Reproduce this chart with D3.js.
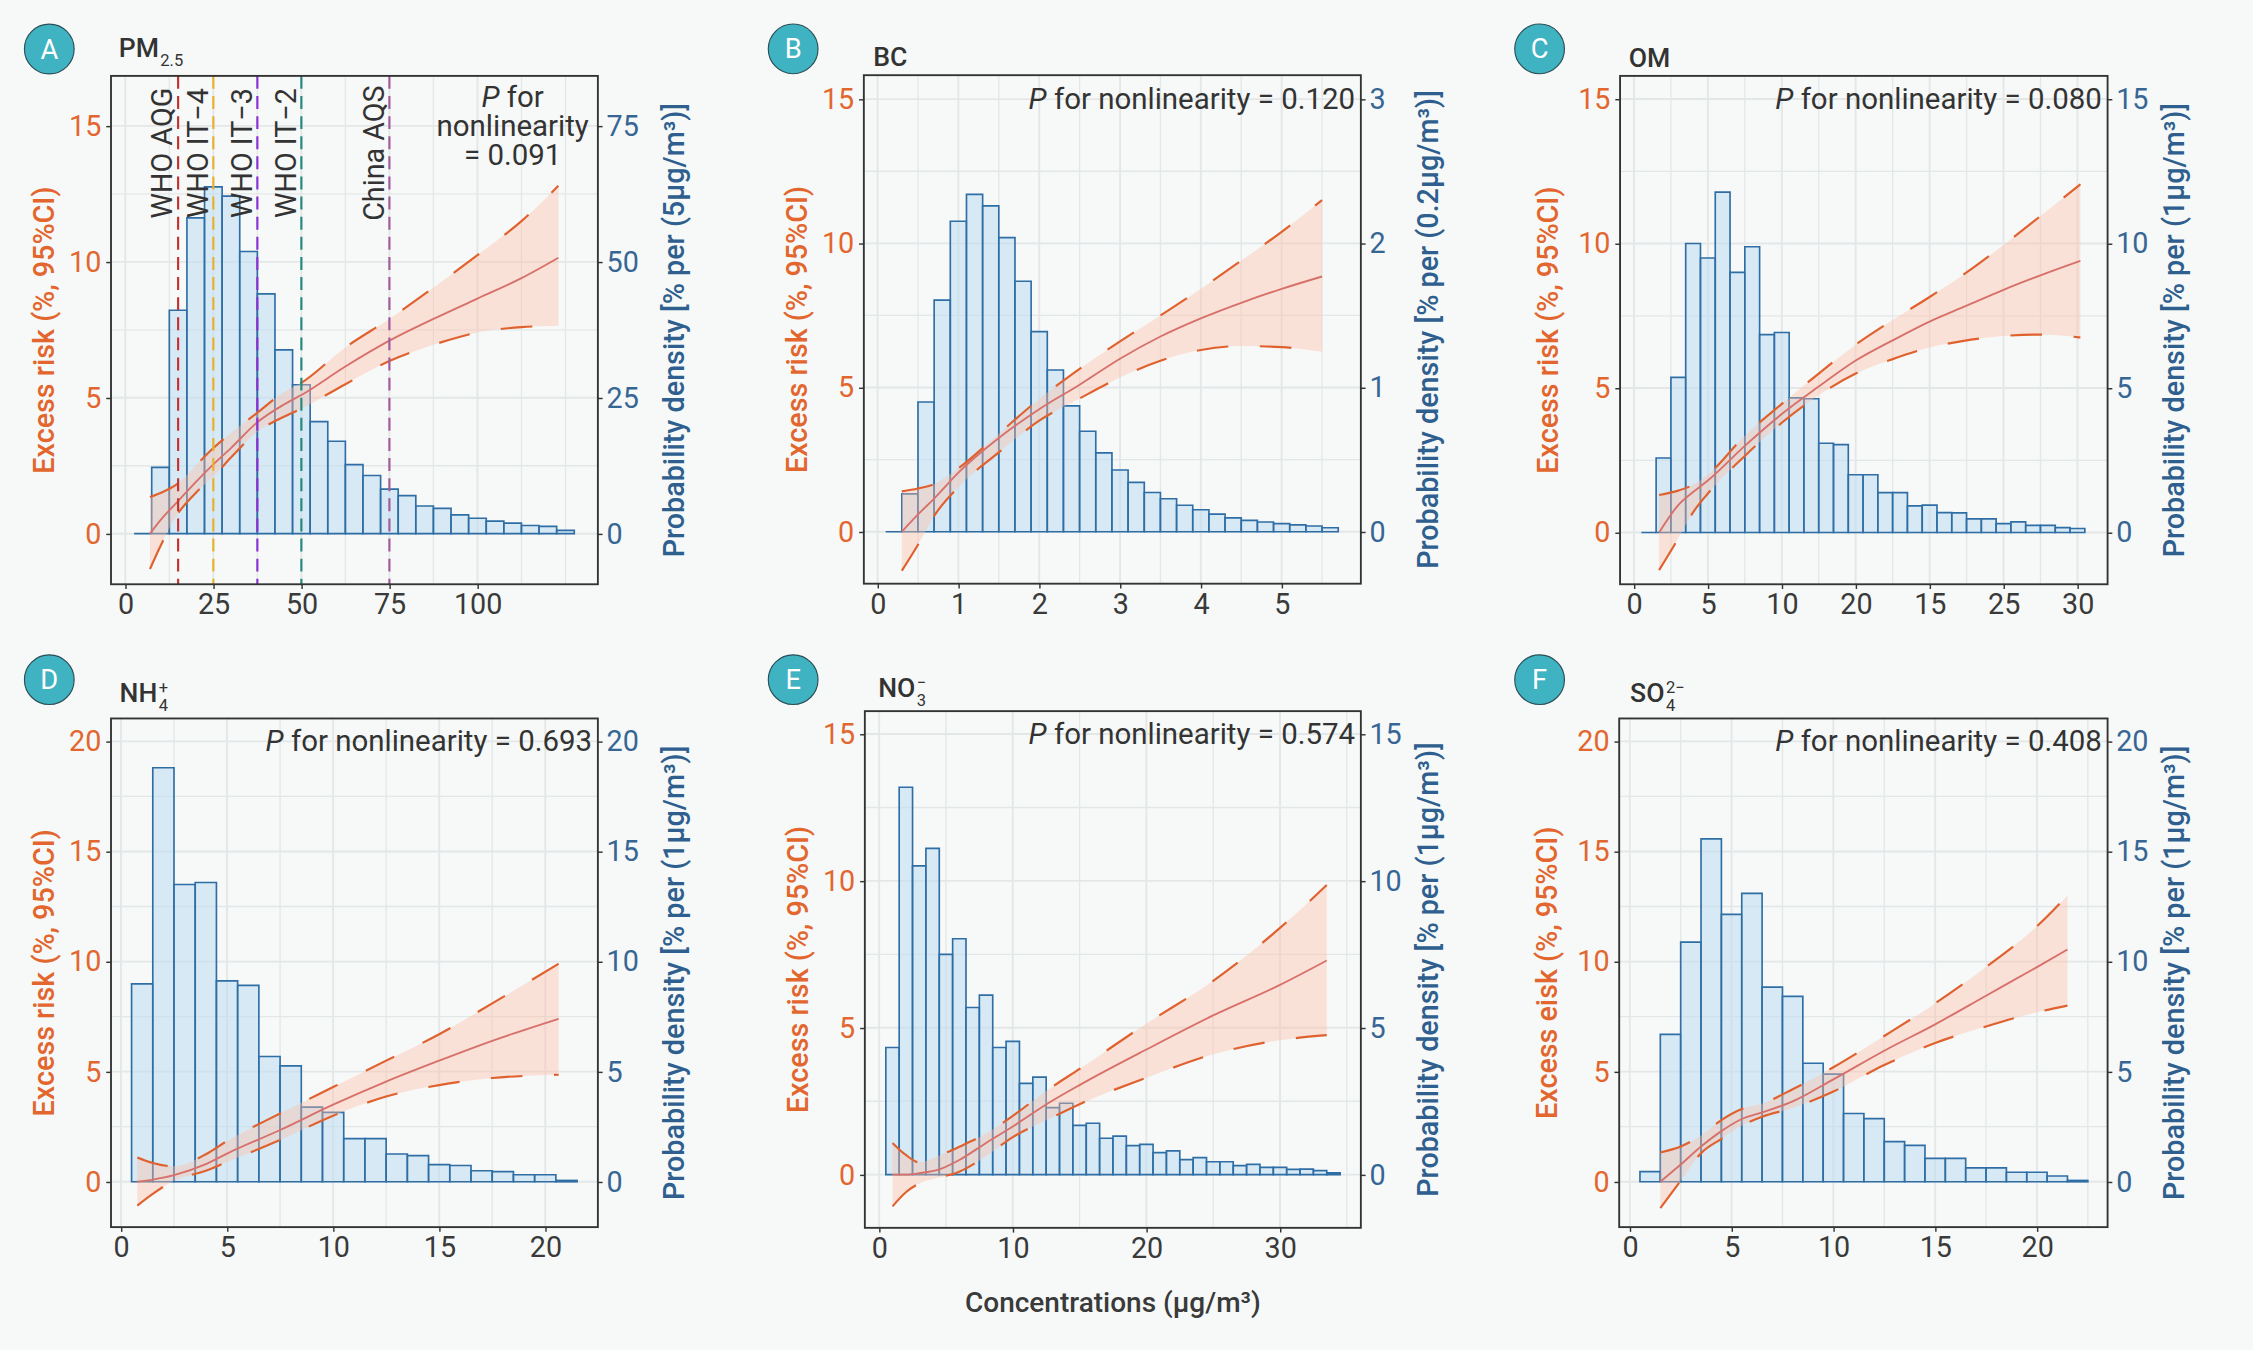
<!DOCTYPE html>
<html>
<head>
<meta charset="utf-8">
<script src="https://cdn.jsdelivr.net/npm/d3@7"></script>
<style>
html, body { margin: 0; padding: 0; background: #f6f9f8; }
svg { display: block; font-family: Roboto, "Noto Sans", sans-serif; }
</style>
</head>
<body>
<svg id="chart" width="2253" height="1350" viewBox="0 0 1568 939.5"></svg>
<script>
// ---- histogram densities (% per bin) ----
var pm25Density = [0, 12.2, 41.1, 58.1, 63.8, 62.1, 51.9, 44.1, 33.8, 27.4, 20.6, 17.0, 12.7, 10.7, 8.2, 7.0, 5.1, 4.65, 3.45, 2.85, 2.3, 1.95, 1.5, 1.35, 0.6]
var bcDensity = [0, 0.263, 0.90, 1.606, 2.153, 2.34, 2.26, 2.04, 1.737, 1.388, 1.122, 0.873, 0.697, 0.547, 0.428, 0.343, 0.272, 0.229, 0.184, 0.153, 0.122, 0.096, 0.079, 0.068, 0.057, 0.048, 0.040, 0.028]
var omDensity = [0, 2.58, 5.37, 10.0, 9.5, 11.78, 9.0, 9.89, 6.85, 6.92, 4.66, 4.63, 3.09, 3.04, 2.0, 2.0, 1.38, 1.38, 0.92, 0.95, 0.69, 0.68, 0.47, 0.47, 0.31, 0.37, 0.25, 0.25, 0.17, 0.14]
var nh4Density = [8.99, 18.8, 13.5, 13.59, 9.12, 8.92, 5.69, 5.26, 3.39, 3.15, 1.96, 1.96, 1.26, 1.19, 0.78, 0.74, 0.5, 0.46, 0.32, 0.32, 0.06]
var no3Density = [4.33, 13.19, 10.51, 11.11, 7.5, 8.03, 5.69, 6.11, 4.33, 4.54, 3.11, 3.32, 2.28, 2.43, 1.68, 1.75, 1.24, 1.31, 0.99, 1.03, 0.75, 0.81, 0.51, 0.58, 0.44, 0.44, 0.31, 0.35, 0.25, 0.25, 0.18, 0.19, 0.14, 0.06]
var so4Density = [0.46, 6.69, 10.88, 15.57, 12.14, 13.1, 8.84, 8.42, 5.38, 4.89, 3.1, 2.87, 1.82, 1.65, 1.06, 1.06, 0.63, 0.63, 0.43, 0.43, 0.26, 0.06]
var binStarts = [2.5, 0.1, 0.5, 0.5, 0.5, 0.5]
var binWidths = [5, 0.2, 1, 1, 1, 1]

// ---- exposure-response curves: excess risk (%) with 95% CI ----
var pm25X = [7, 10, 15, 20, 25, 30, 37.5, 45, 50, 62.5, 75, 87.5, 100, 112.5, 123]
var pm25Fit = [0, 0.5, 1.2, 1.9, 2.55, 3.15, 4.1, 4.75, 5.1, 6.15, 7.1, 7.9, 8.65, 9.4, 10.15]
var pm25Upper = [1.35, 1.5, 1.85, 2.5, 3.15, 3.7, 4.45, 5.2, 5.55, 6.85, 7.9, 9.05, 10.25, 11.5, 12.8]
var pm25Lower = [-1.3, -0.45, 0.75, 1.5, 2.1, 2.8, 3.75, 4.3, 4.6, 5.5, 6.35, 6.95, 7.4, 7.6, 7.65]

var bcX = [0.3, 0.5, 0.7, 1.0, 1.5, 2.0, 2.5, 3.0, 3.5, 4.0, 4.5, 5.0, 5.5]
var bcFit = [0, 0.6, 1.15, 2.05, 3.25, 4.25, 5.1, 6.0, 6.77, 7.4, 7.94, 8.42, 8.85]
var bcUpper = [1.4, 1.5, 1.65, 2.2, 3.4, 4.6, 5.65, 6.6, 7.5, 8.42, 9.4, 10.4, 11.5]
var bcLower = [-1.35, -0.45, 0.55, 1.55, 2.75, 3.85, 4.62, 5.35, 5.93, 6.3, 6.44, 6.4, 6.24]

var omX = [1.7, 3, 4, 5, 7.5, 10, 12.5, 15, 17.5, 20, 22.5, 25, 27.5, 30.2]
var omFit = [0, 0.95, 1.4, 1.8, 3.0, 4.1, 5.05, 5.95, 6.65, 7.3, 7.85, 8.4, 8.9, 9.4]
var omUpper = [1.3, 1.45, 1.65, 2.0, 3.35, 4.45, 5.5, 6.5, 7.35, 8.15, 9.0, 9.95, 10.95, 12.05]
var omLower = [-1.3, -0.2, 0.7, 1.35, 2.65, 3.8, 4.75, 5.5, 6.0, 6.4, 6.65, 6.8, 6.85, 6.75]

var nh4X = [0.77, 1.5, 2.5, 4, 5, 7.5, 10, 12.5, 15, 17.5, 20.63]
var nh4Fit = [0, 0.1, 0.3, 0.8, 1.28, 2.35, 3.5, 4.55, 5.5, 6.4, 7.4]
var nh4Upper = [1.1, 0.85, 0.7, 1.25, 1.85, 3.1, 4.3, 5.5, 6.7, 8.1, 9.9]
var nh4Lower = [-1.08, -0.55, 0.05, 0.5, 0.9, 1.9, 3.0, 3.87, 4.39, 4.71, 4.86]

var no3X = [1, 2, 3, 4.5, 6, 8, 10, 12.5, 15, 20, 25, 30, 33.5]
var no3Fit = [0, 0.0, 0.05, 0.18, 0.5, 1.08, 1.64, 2.39, 3.05, 4.26, 5.42, 6.46, 7.29]
var no3Upper = [1.08, 0.67, 0.42, 0.65, 0.95, 1.4, 2.0, 2.85, 3.6, 5.14, 6.6, 8.4, 9.86]
var no3Lower = [-1.08, -0.6, -0.3, -0.1, 0.1, 0.63, 1.28, 1.85, 2.4, 3.3, 4.1, 4.58, 4.75]

var so4X = [1.5, 2.5, 3.5, 4.5, 5.5, 6.5, 8, 10, 12.5, 15, 17.5, 20, 21.5]
var so4Fit = [0, 0.78, 1.6, 2.3, 2.85, 3.15, 3.65, 4.65, 5.95, 7.15, 8.45, 9.75, 10.55]
var so4Upper = [1.33, 1.6, 2.1, 2.8, 3.3, 3.55, 4.2, 5.2, 6.62, 8.1, 9.75, 11.6, 13.0]
var so4Lower = [-1.2, 0.05, 1.3, 1.95, 2.55, 2.95, 3.35, 4.1, 5.3, 6.3, 7.05, 7.7, 8.0]

// ---- labels, ticks ----
var panelLetters = ["A", "B", "C", "D", "E", "F"]
var pValues = ["0.091", "0.120", "0.080", "0.693", "0.574", "0.408"]
var leftTitles = ["Excess risk (%, 95%CI)", "Excess risk (%, 95%CI)", "Excess risk (%, 95%CI)",
    "Excess risk (%, 95%CI)", "Excess risk (%, 95%CI)", "Excess eisk (%, 95%CI)"]
var rightTitles = ["Probability density [% per (5μg/m³)]", "Probability density [% per (0.2μg/m³)]",
    "Probability density [% per (1μg/m³)]", "Probability density [% per (1μg/m³)]",
    "Probability density [% per (1μg/m³)]", "Probability density [% per (1μg/m³)]"]
var titleMain = ["PM", "BC", "OM", "NH", "NO", "SO"]
var titleSup = ["", "", "", "+", "\u2212", "2\u2212"]
var titleSub = ["2.5", "", "", "4", "3", "4"]

var pm25XTicks = [0, 25, 50, 75, 100]
var bcXTicks = [0, 1, 2, 3, 4, 5]
var omXTicks = [0, 5, 10, 15, 20, 25, 30]
var omXTickLabels = ["0", "5", "10", "20", "15", "25", "30"]
var nh4XTicks = [0, 5, 10, 15, 20]
var no3XTicks = [0, 10, 20, 30]
var so4XTicks = [0, 5, 10, 15, 20]
var leftTicks15 = [0, 5, 10, 15]
var leftTicks20 = [0, 5, 10, 15, 20]
var pm25RightTicks = [0, 25, 50, 75]
var bcRightTicks = [0, 1, 2, 3]

var guideValues = [15, 25, 37.5, 50, 75]
var guideLabels = ["WHO AQG", "WHO IT\u22124", "WHO IT\u22123", "WHO IT\u22122", "China AQS"]
var guideColors = ["#c4332f", "#e8b12c", "#8b2fd6", "#258a7d", "#a25a9e"]

var xLabel = "Concentrations (μg/m³)"

// ---- panel layout (viewBox units) ----
var layout = [
    { x0: 77.25, x1: 416.1, y0: 52.8, y1: 406.6, badge: [34.3, 34.1], title: [82.6, 39.7], lt: 47, rt: 53 },
    { x0: 601.2, x1: 947.1, y0: 52.3, y1: 406.2, badge: [552, 34], title: [607.8, 46], lt: 46.5, rt: 46.5 },
    { x0: 1127.5, x1: 1466.8, y0: 52.8, y1: 406.6, badge: [1071.5, 34], title: [1133.5, 46.8], lt: 50, rt: 46.5 },
    { x0: 77.25, x1: 416.1, y0: 500, y1: 854, badge: [34.3, 473], title: [83.2, 488.6], lt: 47, rt: 53 },
    { x0: 601.9, x1: 947.1, y0: 494.9, y1: 854.5, badge: [552, 473], title: [611.2, 485.2], lt: 46.5, rt: 46.5 },
    { x0: 1126.9, x1: 1466.8, y0: 500, y1: 854, badge: [1071.5, 473], title: [1134.5, 488.6], lt: 50, rt: 46.5 }
]

var panels = [
    { dens: pm25Density, cx: pm25X, fit: pm25Fit, lo: pm25Lower, hi: pm25Upper, xd: [-4.06, 134.2], yd: [-1.86, 16.84], factor: 5, xt: pm25XTicks, xgrid: 12.5, lt: leftTicks15, rtk: pm25RightTicks },
    { dens: bcDensity, cx: bcX, fit: bcFit, lo: bcLower, hi: bcUpper, xd: [-0.17, 5.98], yd: [-1.80, 15.83], factor: 0.2, xt: bcXTicks, xgrid: 0.5, lt: leftTicks15, rtk: bcRightTicks },
    { dens: omDensity, cx: omX, fit: omFit, lo: omLower, hi: omUpper, xd: [-0.94, 32.04], yd: [-1.79, 15.8], factor: 1, xt: omXTicks, xlab: omXTickLabels, xgrid: 2.5, lt: leftTicks15, rtk: leftTicks15 },
    { dens: nh4Density, cx: nh4X, fit: nh4Fit, lo: nh4Lower, hi: nh4Upper, xd: [-0.47, 22.48], yd: [-2.06, 21.04], factor: 1, xt: nh4XTicks, xgrid: 2.5, lt: leftTicks20, rtk: leftTicks20 },
    { dens: no3Density, cx: no3X, fit: no3Fit, lo: no3Lower, hi: no3Upper, xd: [-1.07, 36.05], yd: [-1.81, 15.78], factor: 1, xt: no3XTicks, xgrid: 5, lt: leftTicks15, rtk: leftTicks15 },
    { dens: so4Density, cx: so4X, fit: so4Fit, lo: so4Lower, hi: so4Upper, xd: [-0.52, 23.47], yd: [-2.06, 21.04], factor: 1, xt: so4XTicks, xgrid: 2.5, lt: leftTicks20, rtk: leftTicks20 }
]

var svg = d3.select("#chart")
svg.append("rect").attr("width", 1568).attr("height", 939.5).attr("fill", "#f6f9f8")

panels.forEach(function (p, i) { drawPanel(p, layout[i], i) })

svg.append("text")
    .attr("x", 774.5).attr("y", 913)
    .attr("text-anchor", "middle")
    .attr("font-size", 19.5).attr("font-weight", 500).attr("fill", "#3a3a3a")
    .text(xLabel)

function styleAxis(sel, color) {
    sel.select(".domain").remove()
    sel.attr("font-family", null).attr("font-size", null)
    sel.selectAll(".tick line").attr("stroke", "#333").attr("stroke-width", 1)
    sel.selectAll(".tick text").attr("fill", color).attr("font-size", 20)
}

function drawPanel(p, L, i) {
    var g = svg.append("g")
    var x = d3.scaleLinear().domain(p.xd).range([L.x0, L.x1])
    var y = d3.scaleLinear().domain(p.yd).range([L.y1, L.y0])
    var yR = d3.scaleLinear().domain([p.yd[0] * p.factor, p.yd[1] * p.factor]).range([L.y1, L.y0])

    // grid (major + minor)
    var gx = d3.range(Math.ceil(p.xd[0] / p.xgrid) * p.xgrid, p.xd[1], p.xgrid)
    var gy = d3.range(Math.ceil(p.yd[0] / 2.5) * 2.5, p.yd[1], 2.5)
    g.selectAll(".gx").data(gx).enter().append("line")
        .attr("x1", d => x(d)).attr("x2", d => x(d)).attr("y1", L.y0).attr("y2", L.y1)
        .attr("stroke", "#e4e7e7").attr("stroke-width", d => p.xt.includes(+d.toFixed(4)) ? 1.3 : 0.9)
    g.selectAll(".gy").data(gy).enter().append("line")
        .attr("y1", d => y(d)).attr("y2", d => y(d)).attr("x1", L.x0).attr("x2", L.x1)
        .attr("stroke", "#e4e7e7").attr("stroke-width", d => d % 5 === 0 ? 1.3 : 0.9)

    // histogram
    var bins = p.dens.map(function (v, k) {
        var b0 = binStarts[i] + k * binWidths[i]
        return { b0: b0, b1: b0 + binWidths[i], v: v }
    })
    g.selectAll(".bar").data(bins).enter().append("path")
        .attr("d", d => `M${x(d.b0)},${yR(0)}V${yR(d.v)}H${x(d.b1)}V${yR(0)}Z`)
        .attr("fill", "#bcdcf2").attr("fill-opacity", 0.55)
        .attr("stroke", "#2f6ea5").attr("stroke-width", 1.15)

    // curve + confidence band
    var pts = p.cx.map((v, k) => ({ x: v, fit: p.fit[k], lo: p.lo[k], hi: p.hi[k] }))
    var area = d3.area().x(d => x(d.x)).y0(d => y(d.lo)).y1(d => y(d.hi)).curve(d3.curveMonotoneX)
    g.append("path").datum(pts).attr("d", area)
        .attr("fill", "rgb(255,190,165)").attr("fill-opacity", 0.4)
    ;["lo", "hi"].forEach(function (key) {
        g.append("path").datum(pts)
            .attr("d", d3.line().x(d => x(d.x)).y(d => y(d[key])).curve(d3.curveMonotoneX))
            .attr("fill", "none").attr("stroke", "#e0612e").attr("stroke-width", 1.5)
            .attr("stroke-dasharray", "22,22")
    })
    g.append("path").datum(pts)
        .attr("d", d3.line().x(d => x(d.x)).y(d => y(d.fit)).curve(d3.curveMonotoneX))
        .attr("fill", "none").attr("stroke", "#d8706a").attr("stroke-width", 1.3)

    // guideline markers (panel A only)
    if (i === 0) {
        guideValues.forEach(function (v, k) {
            g.append("line")
                .attr("x1", x(v)).attr("x2", x(v)).attr("y1", L.y0).attr("y2", L.y1)
                .attr("stroke", guideColors[k]).attr("stroke-width", 1.5)
                .attr("stroke-dasharray", "9,5")
            g.append("text")
                .attr("transform", `translate(${x(v) - 4},${y(14)}) rotate(-90)`)
                .attr("text-anchor", "middle")
                .attr("font-size", 20).attr("fill", "#333")
                .text(guideLabels[k])
        })
        var pt = g.append("text").attr("text-anchor", "middle").attr("font-size", 20.5).attr("fill", "#333")
        var cxp = x(110), cyp = y(15) + 7
        pt.append("tspan").attr("x", cxp).attr("y", cyp - 20.5).attr("font-style", "italic").text("P")
        pt.append("tspan").text(" for")
        pt.append("tspan").attr("x", cxp).attr("y", cyp).text("nonlinearity")
        pt.append("tspan").attr("x", cxp).attr("y", cyp + 20.5).text("= " + pValues[i])
    } else {
        var topTick = p.lt[p.lt.length - 1]
        var t = g.append("text").attr("x", L.x1 - 4).attr("y", y(topTick) + 7)
            .attr("text-anchor", "end").attr("font-size", 20.5).attr("fill", "#333")
        t.append("tspan").attr("font-style", "italic").text("P")
        t.append("tspan").text(" for nonlinearity = " + pValues[i])
    }

    // border
    g.append("rect").attr("x", L.x0).attr("y", L.y0)
        .attr("width", L.x1 - L.x0).attr("height", L.y1 - L.y0)
        .attr("fill", "none").attr("stroke", "#333").attr("stroke-width", 1.3)

    // axes
    var axL = g.append("g").attr("transform", `translate(${L.x0},0)`)
        .call(d3.axisLeft(y).tickValues(p.lt).tickFormat(d3.format("d")).tickSize(3.3).tickPadding(3.4))
    styleAxis(axL, "#e2662e")
    var axR = g.append("g").attr("transform", `translate(${L.x1},0)`)
        .call(d3.axisRight(yR).tickValues(p.rtk).tickFormat(d3.format("d")).tickSize(3.3).tickPadding(2.7))
    styleAxis(axR, "#376695")
    var xa = d3.axisBottom(x).tickValues(p.xt).tickSize(3.3).tickPadding(3.5)
    if (p.xlab) xa.tickFormat((d, k) => p.xlab[k])
    else xa.tickFormat(d3.format("d"))
    var axB = g.append("g").attr("transform", `translate(0,${L.y1})`).call(xa)
    styleAxis(axB, "#3a3a3a")

    // axis titles
    var cy = (L.y0 + L.y1) / 2
    g.append("text")
        .attr("transform", `translate(${L.x0 - L.lt},${cy}) rotate(-90)`)
        .attr("text-anchor", "middle").attr("dy", "0.35em")
        .attr("font-size", 20).attr("font-weight", 500).attr("fill", "#e2662e")
        .text(leftTitles[i])
    g.append("text")
        .attr("transform", `translate(${L.x1 + L.rt},${cy}) rotate(-90)`)
        .attr("text-anchor", "middle").attr("dy", "0.35em")
        .attr("font-size", 20).attr("font-weight", 500).attr("fill", "#2f5f8e")
        .text(rightTitles[i])

    // badge
    g.append("circle").attr("cx", L.badge[0]).attr("cy", L.badge[1]).attr("r", 17.3)
        .attr("fill", "#3fb3c2").attr("stroke", "#2b4f57").attr("stroke-width", 0.8)
    g.append("text").attr("x", L.badge[0]).attr("y", L.badge[1]).attr("dy", "0.35em")
        .attr("text-anchor", "middle").attr("font-size", 19).attr("fill", "#fff")
        .text(panelLetters[i])

    // panel title with sub/superscripts
    var tm = g.append("text").attr("x", L.title[0]).attr("y", L.title[1])
        .attr("font-size", 18.5).attr("font-weight", 500).attr("fill", "#333")
        .text(titleMain[i])
    var w = tm.node().getComputedTextLength()
    if (titleSup[i]) {
        g.append("text").attr("x", L.title[0] + w + 1).attr("y", L.title[1] - 6.5)
            .attr("font-size", 11.5).attr("fill", "#333").text(titleSup[i])
    }
    if (titleSub[i]) {
        g.append("text").attr("x", L.title[0] + w + 1).attr("y", L.title[1] + 6.4)
            .attr("font-size", 11.5).attr("fill", "#333").text(titleSub[i])
    }
}
</script>
</body>
</html>
